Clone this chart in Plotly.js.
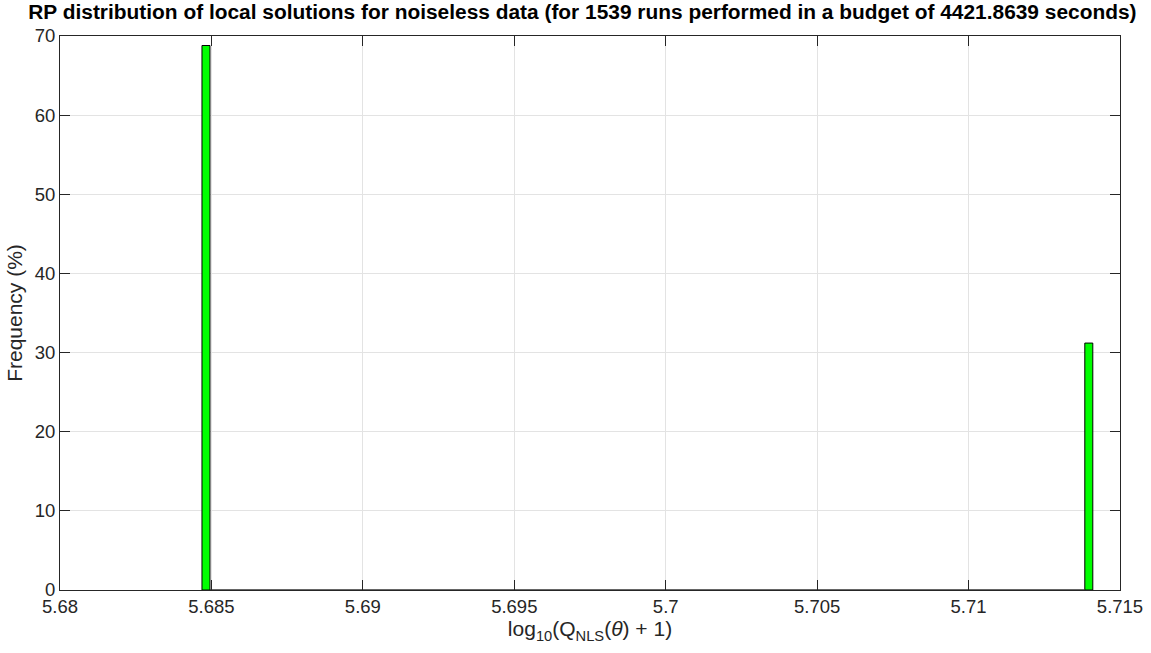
<!DOCTYPE html>
<html><head><meta charset="utf-8">
<script src="https://cdn.plot.ly/plotly-3.0.1.min.js"></script>
<style>html,body{margin:0;padding:0;background:#fff;}#chart{width:1151px;height:653px;}</style>
</head><body><div id="chart"></div>
<script>
// Data
const binCenters = [5.68482, 5.71397];      // log10(Q_NLS(theta)+1)
const frequencies = [68.8, 31.2];            // percent of runs
const binWidth = 0.000264;
const xTicks = [5.68, 5.685, 5.69, 5.695, 5.7, 5.705, 5.71, 5.715];
const xTickLabels = ['5.68', '5.685', '5.69', '5.695', '5.7', '5.705', '5.71', '5.715'];
const yTicks = [0, 10, 20, 30, 40, 50, 60, 70];

const axisColor = '#262626';
const fam = 'Liberation Sans, Arial, sans-serif';
const font = {family: fam, size: 18.5, color: axisColor};

// empty bins between the two occupied bins (drawn as baseline edges)
const baseX = [binCenters[0] + binWidth/2, binCenters[binCenters.length-1] - binWidth/2];
const baseY = [0, 0];

const traces = [
  {type: 'scatter', mode: 'lines', x: baseX, y: baseY,
   line: {color: '#333333', width: 1.5}, hoverinfo: 'skip', showlegend: false, cliponaxis: false},
  {type: 'bar', x: binCenters, y: frequencies, width: binWidth,
   marker: {color: '#00ff00', line: {color: '#000000', width: 1}}, showlegend: false}
];

const layout = {
  width: 1151, height: 653,
  margin: {l: 60, r: 31, t: 36, b: 63},
  paper_bgcolor: '#ffffff', plot_bgcolor: '#ffffff',
  font: font,
  title: {text: '<b>RP distribution of local solutions for noiseless data (for 1539 runs performed in a budget of 4421.8639 seconds)</b>',
          font: {family: fam, size: 20.9, color: '#000'},
          x: 0.506, xanchor: 'center', y: 0.994, yanchor: 'top'},
  xaxis: {range: [5.68, 5.715], tickvals: xTicks, ticktext: xTickLabels,
          showgrid: true, gridcolor: '#e3e3e3', gridwidth: 1,
          showline: true, linecolor: axisColor, linewidth: 1, mirror: 'ticks',
          ticks: 'inside', ticklen: 10, tickcolor: axisColor, zeroline: false,
          tickfont: {family: fam, size: 18.5, color: axisColor},
          title: {text: 'log<sub>10</sub>(Q<sub>NLS</sub>(<i>θ</i>) + 1)', font: {family: fam, size: 21, color: axisColor}, standoff: 5}},
  yaxis: {range: [0, 70], tickvals: yTicks,
          showgrid: true, gridcolor: '#e3e3e3', gridwidth: 1,
          showline: true, linecolor: axisColor, linewidth: 1, mirror: 'ticks',
          ticks: 'inside', ticklen: 10, tickcolor: axisColor, zeroline: false,
          tickfont: {family: fam, size: 18.5, color: axisColor},
          title: {text: 'Frequency (%)', font: {family: fam, size: 21, color: axisColor}, standoff: 6}},
  bargap: 0
};

Plotly.newPlot('chart', traces, layout, {displayModeBar: false, staticPlot: true});
</script>
</body></html>
